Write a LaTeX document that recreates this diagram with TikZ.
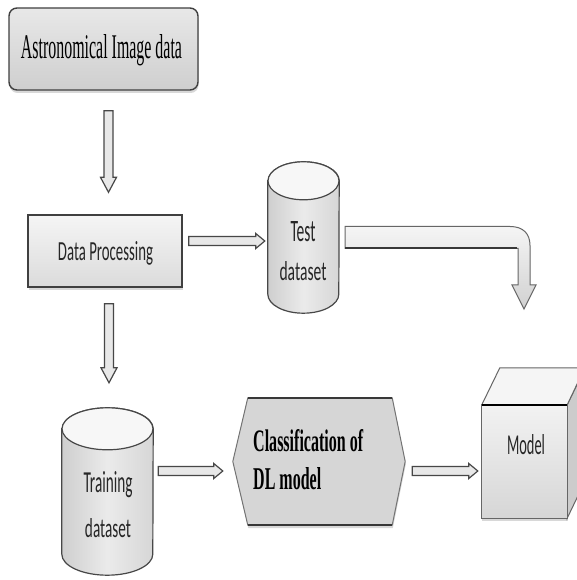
\documentclass[tikz,border=0pt]{standalone}
\usepackage{fontspec}
\usepackage{graphicx}
\setmainfont{Liberation Serif}
\newfontfamily\calib{Carlito}
\usetikzlibrary{calc,shadows}
\newcommand{\fitt}[3]{\resizebox{#1pt}{#2pt}{#3}}
\newcommand{\drawcyl}[3]{%
  \draw[cylbody] let \p1=(#1.north west), \p2=(#1.south east) in
    (\x1,\y1-#3pt) -- (\x1,\y2+#3pt)
    arc[start angle=180,end angle=360,x radius=#2pt,y radius=#3pt]
    -- (\x2,\y1-#3pt)
    arc[start angle=0,end angle=180,x radius=#2pt,y radius=#3pt] -- cycle;
  \draw[cyltop] ($(#1.north)+(0,-#3pt)$) ellipse[x radius=#2pt,y radius=#3pt];
}
\tikzset{
  outline/.style={draw=black!75, line width=1.4pt},
  shad/.style={drop shadow={opacity=0.3, shadow xshift=0.6pt, shadow yshift=-3pt}},
  astrobox/.style={rectangle, rounded corners=8pt, outline, top color=gray!18, bottom color=gray!38, shad},
  procbox/.style={rectangle, outline, top color=gray!8, bottom color=gray!28, shad},
  holder/.style={rectangle, draw=none, inner sep=0pt},
  cylbody/.style={draw=black!72, line width=1.2pt, left color=gray!38, right color=gray!32, middle color=gray!16},
  cyltop/.style={draw=black!72, line width=1.2pt, fill=gray!6},
  lbl/.style={anchor=base, inner sep=0pt, font=\calib, text=black!85},
  serlbl/.style={anchor=base, inner sep=0pt, text=black},
  hollow/.style={draw=black!72, line width=1.2pt, fill=gray!18},
  varrow/.style={to path={let \p1=(\tikztostart), \p2=(\tikztotarget) in
    (\x1-4.5pt,\y1) -- (\x1-4.5pt,\y2+15pt) -- (\x1-8pt,\y2+15pt) -- (\x1,\y2)
    -- (\x1+8pt,\y2+15pt) -- (\x1+4.5pt,\y2+15pt) -- (\x1+4.5pt,\y1) -- cycle}},
  harrow/.style={to path={let \p1=(\tikztostart), \p2=(\tikztotarget) in
    (\x1,\y1-4.5pt) -- (\x2-9pt,\y1-4.5pt) -- (\x2-9pt,\y1-7.5pt) -- (\x2,\y1)
    -- (\x2-9pt,\y1+7.5pt) -- (\x2-9pt,\y1+4.5pt) -- (\x1,\y1+4.5pt) -- cycle}},
  clsshape/.style={draw=black!55, line width=1pt, fill=gray!32, shad},
  edge/.style={draw=black!78, line width=2pt},
  bent/.style={draw=black!60, line width=1pt, top color=gray!8, bottom color=gray!36},
}
\begin{document}
\begin{tikzpicture}[x=1pt,y=1pt]
\useasboundingbox (0,0) rectangle (577,580);
\fill[white] (0,0) rectangle (577,580);
\begin{scope}
\clip (0,0) rectangle (577,580);

% shape nodes
\node[astrobox, minimum width=189pt, minimum height=82pt] (astro) at (103.5,531) {};
\node[procbox, minimum width=154pt, minimum height=72pt] (dp) at (105,329) {};
\node[holder, minimum width=71pt, minimum height=151pt] (test) at (303.5,342.5) {};
\node[holder, minimum width=91pt, minimum height=167pt] (train) at (107.5,88.5) {};
\node[holder, minimum width=172pt, minimum height=127pt] (cls) at (319,118.5) {};
\node[holder, minimum width=85pt, minimum height=113pt] (model) at (524.5,118.5) {};

% cylinders
\drawcyl{test}{35.5}{19}
\drawcyl{train}{45.5}{21}

% classification hexagon
\draw[clsshape] ([xshift=15pt]cls.north west) -- ([xshift=-13pt]cls.north east) -- (cls.east)
  -- ([xshift=-13pt]cls.south east) -- ([xshift=15pt]cls.south west) -- (cls.west) -- cycle;
\draw[edge] ([xshift=15pt]cls.north west) -- ([xshift=-13pt]cls.north east);
\draw[edge] ([xshift=15pt]cls.south west) -- ([xshift=-13pt]cls.south east);

% model cube
\draw[draw=black!60, line width=1pt, fill=gray!40] (model.north east) -- ++(18,37) -- ++(0,-113) -- (model.south east) -- cycle;
\draw[draw=black!60, line width=1pt, fill=gray!8] (model.north west) -- ++(18,37) -- ++(85,0) -- (model.north east) -- cycle;
\draw[draw=black!60, line width=1pt, top color=gray!10, bottom color=gray!32, shad] (model.south west) rectangle (model.north east);
\draw[line width=1.6pt, black] (model.north west) -- (model.north east);

% connectors
\draw[hollow, varrow] ([xshift=5pt,yshift=-20pt]astro.south) to ([yshift=22pt]dp.north);
\draw[hollow, varrow] ([xshift=4pt,yshift=-16pt]dp.south) to ([yshift=25pt]train.north);
\draw[hollow, harrow] ([xshift=6pt,yshift=10pt]dp.east) to ([xshift=-3pt]test.west);
\draw[hollow, harrow] ([xshift=5pt,yshift=20.5pt]train.east) to ([xshift=-10pt]cls.west);
\draw[hollow, harrow] ([xshift=7pt,yshift=-9.5pt]cls.east) to ([xshift=-4pt]model.west);

% bent arrow from test dataset
\draw[bent] let \p1=([xshift=6pt]test.east) in
  (\x1,\y1+11pt) -- (510,\y1+11pt) .. controls (523,\y1+11pt) and (530,\y1+4pt) .. (530,\y1-8pt)
  -- (530,295) -- (536,295) -- (524,271) -- (512,295) -- (518,295) -- (518,\y1-11pt)
  -- (\x1,\y1-11pt) -- cycle;
\draw[edge] let \p1=([xshift=6pt]test.east) in (\x1,\y1-11pt) -- (517,\y1-11pt);

% texts
\node[serlbl] (astrotxt) at (101.5,521) {\fitt{161}{24}{Astronomical Image data}};
\node[lbl] (dptxt) at (105.5,319) {\fitt{95}{19}{Data Processing}};
\node[lbl] (testtxt1) at (303,338) {\fitt{25}{20}{Test}};
\node[lbl] (testtxt2) at (303,299) {\fitt{47}{19}{dataset}};
\node[lbl] (traintxt1) at (108,87) {\fitt{49}{21}{Training}};
\node[lbl] (traintxt2) at (108,42) {\fitt{46}{19}{dataset}};
\node[serlbl, anchor=base west] (clstxt1) at (253,128) {\fitt{110}{22}{\bfseries Classification of}};
\node[serlbl, anchor=base west] (clstxt2) at (253,90) {\fitt{68}{22}{\bfseries DL model}};
\node[lbl] (modeltxt) at (526,125) {\fitt{38}{20}{Model}};
\end{scope}
\end{tikzpicture}
\end{document}
